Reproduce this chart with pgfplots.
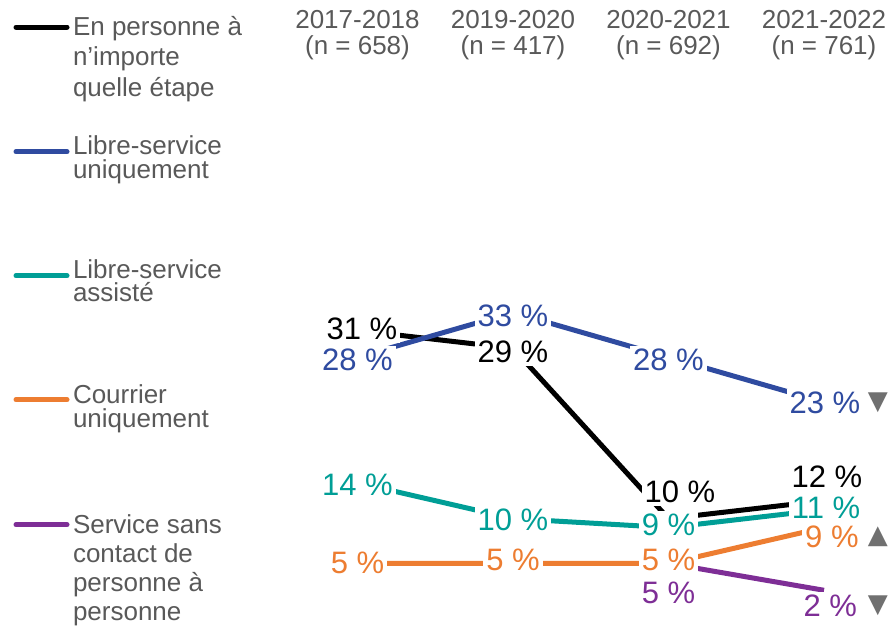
\documentclass[border=0pt]{standalone}
\usepackage{fontspec}
\setmainfont{Liberation Sans}
\newfontfamily\symfont{DejaVu Sans}
\usepackage{pgfplots}
\pgfplotsset{compat=1.18}
\definecolor{cblue}{RGB}{47,75,160}
\definecolor{cteal}{RGB}{0,158,150}
\definecolor{corange}{RGB}{237,125,49}
\definecolor{cpurple}{RGB}{126,46,150}
\definecolor{cgray}{RGB}{89,89,89}
\definecolor{ctri}{RGB}{112,112,112}
\newcommand{\legtext}[3]{\parbox[t][#1][t]{100bp}{\raggedright\fontsize{13bp}{#2}\selectfont #3}}
\begin{document}
\begin{tikzpicture}[
  lbl/.style={fill=white, inner sep=1.5bp, font=\fontsize{15.5bp}{18bp}\selectfont},
  tri/.style={text=ctri, inner sep=0pt, font=\symfont\fontsize{13bp}{13bp}\selectfont},
]
\begin{axis}[
  at={(178.75bp,-304.1bp)}, anchor=south west,
  scale only axis, width=233.25bp, height=274.1bp,
  xmin=0, xmax=3, ymin=0, ymax=61.18,
  clip=false,
  axis line style={draw=none},
  major tick length=0pt,
  ytick=\empty,
  xtick={0,1,2,3},
  xticklabels={{2017-2018\\(n = 658)},{2019-2020\\(n = 417)},{2020-2021\\(n = 692)},{2021-2022\\(n = 761)}},
  xticklabel pos=upper,
  xticklabel style={align=center, font=\fontsize{13bp}{13bp}\selectfont, text=cgray, inner sep=0pt, anchor=south},
  every axis plot/.append style={line width=2.5bp},
  legend style={at={(axis description cs:-0.7374,1.0803)}, anchor=north west,
    draw=none, fill=none, inner sep=0pt, outer sep=0pt, row sep=0pt, column sep=1.75bp,
    nodes={inner sep=0pt, text depth=}, cells={anchor=base west}, text=cgray},
]
\addplot[black, legend image code/.code={\draw[black, line width=2.5bp, line cap=round] (0bp,4bp) -- (25.5bp,4bp);}]
  coordinates {(0,31) (1,29) (2,10) (3,12)};
\addlegendentry{\legtext{60bp}{15.25bp}{En personne à\\n’importe\\quelle étape}}
\addplot[cblue, legend image code/.code={\draw[cblue, line width=2.5bp, line cap=round] (0bp,1.5bp) -- (25.5bp,1.5bp);}]
  coordinates {(0,28) (1,33) (2,28) (3,23)};
\addlegendentry{\legtext{62bp}{12bp}{Libre-service\\uniquement}}
\addplot[cteal, legend image code/.code={\draw[cteal, line width=2.5bp, line cap=round] (0bp,1.5bp) -- (25.5bp,1.5bp);}]
  coordinates {(0,14) (1,10) (2,9) (3,11)};
\addlegendentry{\legtext{62.5bp}{11.5bp}{Libre-service\\assisté}}
\addplot[corange, legend image code/.code={\draw[corange, line width=2.5bp, line cap=round] (0bp,2bp) -- (25.5bp,2bp);}]
  coordinates {(0,5) (1,5) (2,5) (3,9)};
\addlegendentry{\legtext{65bp}{12bp}{Courrier\\uniquement}}
\addplot[cpurple, legend image code/.code={\draw[cpurple, line width=2.5bp, line cap=round] (0bp,4.5bp) -- (25.5bp,4.5bp);}]
  coordinates {(2,5) (3,2)};
\addlegendentry{\legtext{60bp}{14.5bp}{Service sans\\contact de\\personne à\\personne}}
% labels
\node[lbl, text=black] at (axis cs:0.029,31.16) {31 \%};
\node[lbl, text=black] at (axis cs:1,28.59) {29 \%};
\node[lbl, text=black] at (axis cs:2.074,12.97) {10 \%};
\node[lbl, text=black] at (axis cs:3.019,14.64) {12 \%};
\node[lbl, text=cblue] at (axis cs:0,27.7) {28 \%};
\node[lbl, text=cblue] at (axis cs:1,32.61) {33 \%};
\node[lbl, text=cblue] at (axis cs:2,27.7) {28 \%};
\node[lbl, text=cblue] at (axis cs:3.006,22.9) {23 \%};
\node[lbl, text=cteal] at (axis cs:0,13.75) {14 \%};
\node[lbl, text=cteal] at (axis cs:1,9.84) {10 \%};
\node[lbl, text=cteal] at (axis cs:2,9.29) {9 \%};
\node[lbl, text=cteal] at (axis cs:3.013,11.18) {11 \%};
\node[lbl, text=corange] at (axis cs:0,5.04) {5 \%};
\node[lbl, text=corange] at (axis cs:1,5.38) {5 \%};
\node[lbl, text=corange] at (axis cs:2,5.38) {5 \%};
\node[lbl, text=corange] at (axis cs:3.051,7.94) {9 \%};
\node[lbl, text=cpurple] at (axis cs:2,1.7) {5 \%};
\node[lbl, text=cpurple] at (axis cs:3.04,0.25) {2 \%};
\node[tri] at (axis cs:3.347,22.9) {▼};
\node[tri] at (axis cs:3.347,7.94) {▲};
\node[tri] at (axis cs:3.347,0.25) {▼};
\end{axis}
\pgfresetboundingbox
\useasboundingbox (0,0) rectangle (446bp,-314.5bp);
\end{tikzpicture}
\end{document}
